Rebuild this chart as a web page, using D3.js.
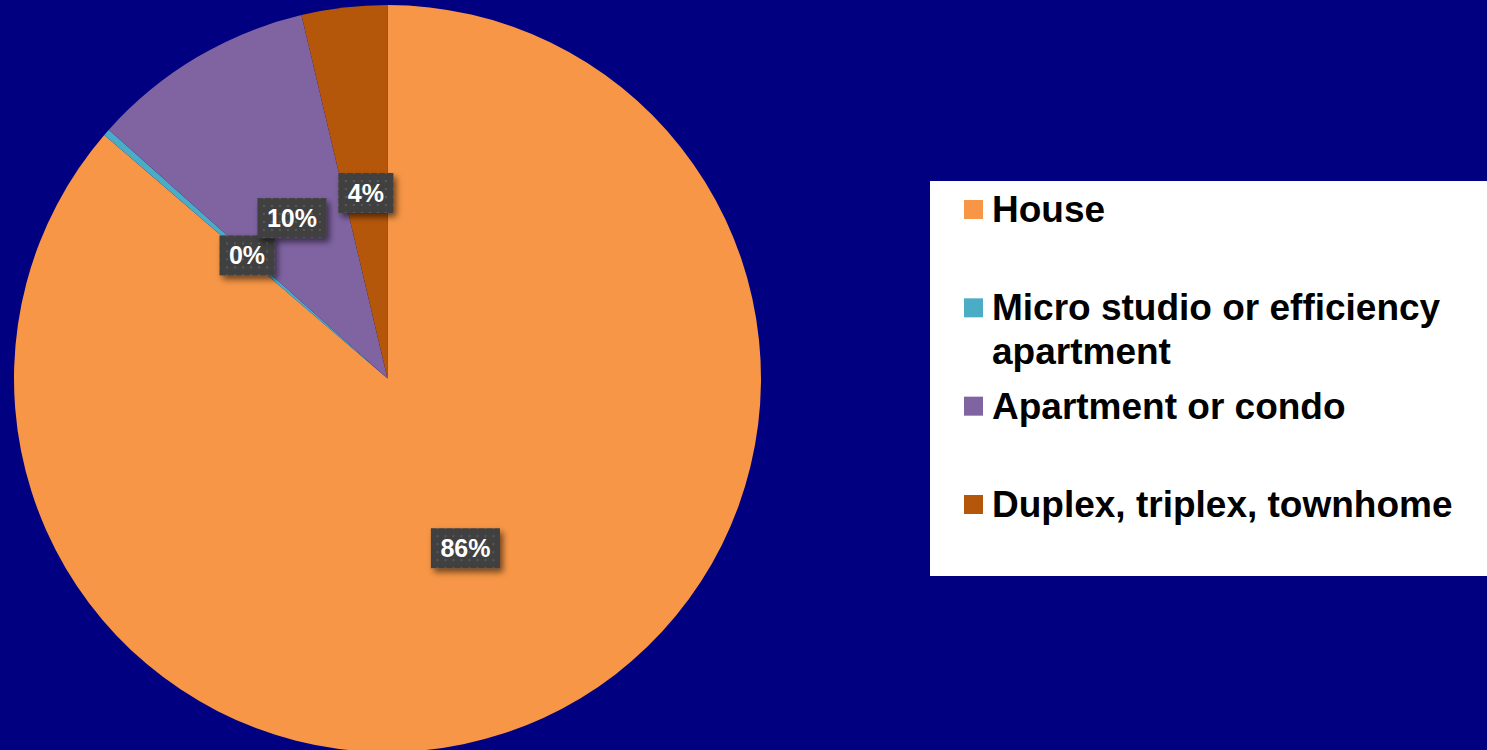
<!DOCTYPE html>
<html>
<head>
<meta charset="utf-8">
<script src="https://cdn.jsdelivr.net/npm/d3@7"></script>
<style>
  html, body { margin: 0; padding: 0; background: #000080; overflow: hidden; }
  svg { display: block; }
</style>
</head>
<body>
<svg id="chart" width="1487" height="750"></svg>
<script>
// Housing type shares (percent of respondents)
const categories = ["House", "Micro studio or efficiency apartment", "Apartment or condo", "Duplex, triplex, townhome"];
const shares = [86.3, 0.3, 9.7, 3.7];
const colors = ["#F79646", "#4BACC6", "#8064A2", "#B5570A"];

const W = 1487, H = 750;
const svg = d3.select("#chart");

const defs = svg.append("defs");

// Soft drop shadow for the value boxes
const shadow = defs.append("filter").attr("id", "boxShadow")
  .attr("x", "-30%").attr("y", "-30%").attr("width", "170%").attr("height", "180%");
shadow.append("feDropShadow")
  .attr("dx", 3).attr("dy", 4).attr("stdDeviation", 3)
  .attr("flood-color", "#000").attr("flood-opacity", 0.55);

// Dotted fill for the value boxes
const dots = defs.append("pattern").attr("id", "dotFill")
  .attr("patternUnits", "userSpaceOnUse").attr("width", 8).attr("height", 8);
dots.append("rect").attr("width", 8).attr("height", 8).attr("fill", "#404040");
dots.append("rect").attr("x", 3).attr("y", 3).attr("width", 2).attr("height", 2).attr("fill", "#585858");

// Pie geometry
const cx = 387.5, cy = 378.5, radius = 373.5;
const color = d3.scaleOrdinal().domain(categories).range(colors);

const data = categories.map((c, i) => ({ name: c, value: shares[i] }));
const total = d3.sum(shares);

const pie = d3.pie().value(d => d.value).sort(null);
const arcs = pie(data);
const arc = d3.arc().innerRadius(0).outerRadius(radius);
const labelArc = d3.arc().innerRadius(radius / 2).outerRadius(radius / 2);

const g = svg.append("g").attr("transform", `translate(${cx},${cy})`);

g.selectAll("path.slice")
  .data(arcs)
  .join("path")
  .attr("class", "slice")
  .attr("d", arc)
  .attr("fill", d => color(d.data.name));

// Value labels in dark boxes at half radius
const pct = d3.format(".0%");
const labels = g.selectAll("g.val")
  .data(arcs)
  .join("g")
  .attr("class", "val")
  .attr("transform", d => `translate(${labelArc.centroid(d)})`);

labels.each(function(d) {
  const sel = d3.select(this);
  const txt = sel.append("text")
    .attr("text-anchor", "middle")
    .attr("dy", "0.36em")
    .attr("fill", "#ffffff")
    .attr("font-family", "Liberation Sans, Arial, sans-serif")
    .attr("font-weight", "bold")
    .attr("font-size", 25)
    .text(pct(d.data.value / total));
  const tw = txt.node().getComputedTextLength();
  const bw = tw + 19, bh = 40;
  sel.insert("rect", "text")
    .attr("x", -bw / 2).attr("y", -bh / 2)
    .attr("width", bw).attr("height", bh)
    .attr("fill", "url(#dotFill)")
    .attr("filter", "url(#boxShadow)");
});

// Legend panel
const legX = 930, legY = 181, legW = W - 930, legH = 395;
svg.append("rect")
  .attr("x", legX).attr("y", legY)
  .attr("width", legW).attr("height", legH)
  .attr("fill", "#ffffff");

const rowY = d3.scalePoint().domain(categories).range([222, 517]);
const textX = 992, maxTextW = 470, fs = 37, lineH = 44;

const legend = svg.append("g").selectAll("g.item")
  .data(categories)
  .join("g")
  .attr("class", "item");

legend.append("rect")
  .attr("x", 964)
  .attr("y", d => rowY(d) - 22)
  .attr("width", 19).attr("height", 19)
  .attr("fill", d => color(d));

legend.append("text")
  .attr("x", textX)
  .attr("y", d => rowY(d))
  .attr("font-family", "Liberation Sans, Arial, sans-serif")
  .attr("font-weight", "bold")
  .attr("font-size", fs)
  .attr("fill", "#000")
  .each(function(d) {
    // wrap long entries onto extra lines
    const t = d3.select(this);
    const words = d.split(" ");
    let line = [];
    let tspan = t.append("tspan").attr("x", textX);
    let lineNo = 0;
    words.forEach(w => {
      line.push(w);
      tspan.text(line.join(" "));
      if (tspan.node().getComputedTextLength() > maxTextW && line.length > 1) {
        line.pop();
        tspan.text(line.join(" "));
        line = [w];
        lineNo++;
        tspan = t.append("tspan").attr("x", textX).attr("dy", lineH).text(w);
      }
    });
  });
</script>
</body>
</html>
